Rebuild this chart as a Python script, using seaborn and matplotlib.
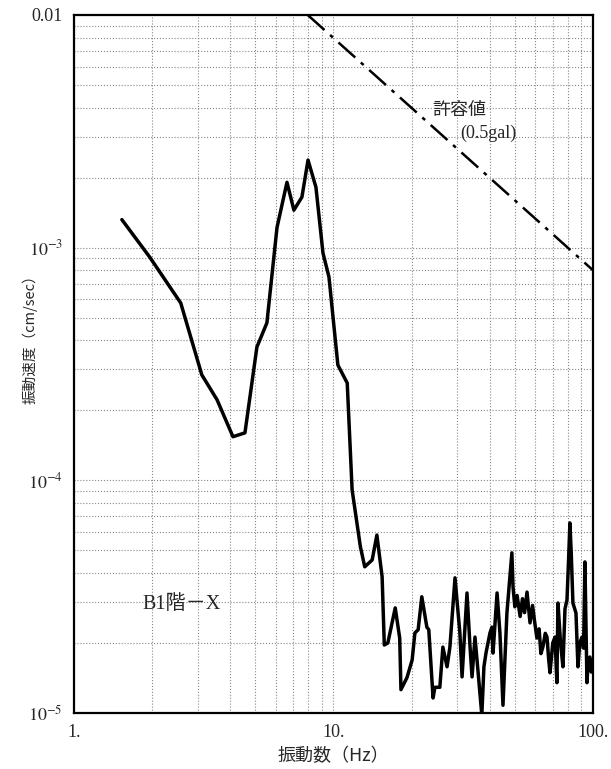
import matplotlib
matplotlib.use('Agg')
import matplotlib.pyplot as plt
import matplotlib.ticker as mticker
import pandas as pd
import seaborn as sns

sns.set_style('white')
plt.rcParams['font.family'] = ['Liberation Serif', 'Noto Sans CJK JP']
plt.rcParams['mathtext.fontset'] = 'stix'

# measured spectrum (B1 floor, X direction)
freq = [1.53, 1.96, 2.58, 3.11, 3.56, 4.10, 4.56, 5.07, 5.54, 6.06, 6.62, 7.04, 7.56,
        7.98, 8.56, 9.11, 9.61, 10.4, 11.3, 11.8, 12.7, 13.2, 14.1, 14.7, 15.4, 15.7,
        16.2, 17.3, 18.0, 18.2, 19.2, 20.1, 20.6, 21.2, 21.9, 22.9, 23.3, 24.2, 24.6,
        25.7, 26.4, 27.4, 28.1, 29.4, 30.7, 31.3, 32.7, 33.6, 34.2, 35.1, 36.1, 37.3,
        38.0, 38.7, 40.1, 40.8, 41.2, 42.7, 43.8, 45.0, 46.6, 48.7, 49.2, 50.0, 51.0,
        52.4, 53.5, 54.5, 55.7, 57.2, 58.5, 59.5, 60.8, 62.0, 63.0, 64.1, 65.5, 66.5,
        67.5, 68.3, 70.0, 71.4, 72.6, 73.3, 75.0, 76.6, 78.0, 79.4, 80.5, 81.5, 82.5,
        83.7, 86.0, 87.5, 89.0, 90.7, 92.0, 93.1, 94.8, 96.0, 97.3, 98.5, 100.0]
vel = [1.32e-3, 9.1e-4, 5.78e-4, 2.84e-4, 2.22e-4, 1.54e-4, 1.60e-4, 3.74e-4, 4.75e-4,
       1.22e-3, 1.91e-3, 1.45e-3, 1.65e-3, 2.38e-3, 1.82e-3, 9.5e-4, 7.48e-4, 3.13e-4,
       2.62e-4, 9.1e-5, 5.18e-5, 4.25e-5, 4.55e-5, 5.82e-5, 3.85e-5, 1.96e-5, 2.0e-5,
       2.83e-5, 2.10e-5, 1.26e-5, 1.42e-5, 1.69e-5, 2.21e-5, 2.28e-5, 3.16e-5, 2.34e-5,
       2.28e-5, 1.16e-5, 1.29e-5, 1.29e-5, 1.92e-5, 1.58e-5, 1.92e-5, 3.81e-5, 2.21e-5,
       1.43e-5, 3.28e-5, 1.92e-5, 1.43e-5, 2.12e-5, 1.49e-5, 9.8e-6, 1.58e-5, 1.81e-5,
       2.21e-5, 2.34e-5, 1.81e-5, 3.28e-5, 2.21e-5, 1.08e-5, 2.69e-5, 4.88e-5, 3.48e-5,
       2.86e-5, 3.2e-5, 2.6e-5, 3.1e-5, 2.7e-5, 3.31e-5, 2.44e-5, 2.9e-5, 2.5e-5, 2.10e-5,
       2.3e-5, 1.8e-5, 1.92e-5, 2.2e-5, 2.12e-5, 1.7e-5, 1.49e-5, 2.0e-5, 2.12e-5, 1.35e-5,
       2.97e-5, 2.0e-5, 1.58e-5, 2.8e-5, 3.06e-5, 4.5e-5, 6.56e-5, 4.8e-5, 2.97e-5,
       2.69e-5, 1.58e-5, 2.0e-5, 2.12e-5, 1.9e-5, 4.46e-5, 1.35e-5, 1.7e-5, 1.74e-5,
       1.5e-5, 1.69e-5]

# allowable limit line (0.5 gal)
limit_freq = [7.96, 100.0]
limit_vel = [0.01, 0.0008]

df = pd.DataFrame({'freq': freq, 'vel': vel})
lim = pd.DataFrame({'freq': limit_freq, 'vel': limit_vel})

fig = plt.figure(figsize=(6.11, 7.69), dpi=100)
ax = fig.add_axes([0.121, 0.0728, 0.8495, 0.9077])

sns.lineplot(data=df, x='freq', y='vel', ax=ax, color='black', linewidth=2.5,
             estimator=None, sort=False)
sns.lineplot(data=lim, x='freq', y='vel', ax=ax, color='black', linewidth=1.8,
             estimator=None, sort=False)
ax.lines[-1].set_dashes([9, 3, 1.5, 3])

ax.set_xscale('log')
ax.set_yscale('log')
ax.set_xlim(1, 100)
ax.set_ylim(1e-5, 1e-2)

ax.xaxis.set_major_locator(mticker.FixedLocator([1, 10, 100]))
ax.set_xticklabels(['1.', '10.', '100.'])
ax.yaxis.set_major_locator(mticker.FixedLocator([1e-5, 1e-4, 1e-3, 1e-2]))
ax.set_yticklabels(['$10^{-5}$', '$10^{-4}$', '$10^{-3}$', '0.01'])
ax.xaxis.set_minor_locator(mticker.LogLocator(base=10, subs=range(2, 10)))
ax.yaxis.set_minor_locator(mticker.LogLocator(base=10, subs=range(2, 10)))
ax.xaxis.set_minor_formatter(mticker.NullFormatter())
ax.yaxis.set_minor_formatter(mticker.NullFormatter())

ax.tick_params(which='both', direction='in', labelsize=13, color='black')
ax.tick_params(which='major', length=6, width=1.2, pad=8)
ax.tick_params(which='minor', length=5, width=1.2)

ax.grid(True, which='both', color='#888888', linestyle=':', linewidth=0.8)
for s in ax.spines.values():
    s.set_color('black')
    s.set_linewidth(1.6)

ax.set_xlabel('振動数（Hz）', fontsize=13, family=['Noto Sans CJK JP'])
ax.set_ylabel('振動速度（cm/sec）', fontsize=10.5, family=['Noto Sans CJK JP'])
ax.yaxis.set_label_coords(-0.07, 0.54)

ax.text(24.0, 3.9e-3, '許容値', fontsize=13, family=['Noto Sans CJK JP'], va='center')
ax.text(30.7, 3.1e-3, '(0.5gal)', fontsize=13, va='center')
ax.text(1.84, 2.92e-5, 'B1階－X', fontsize=14.5, va='center',
        family=['Liberation Serif', 'Noto Sans CJK JP'])

fig.savefig('out.png', dpi=100)
